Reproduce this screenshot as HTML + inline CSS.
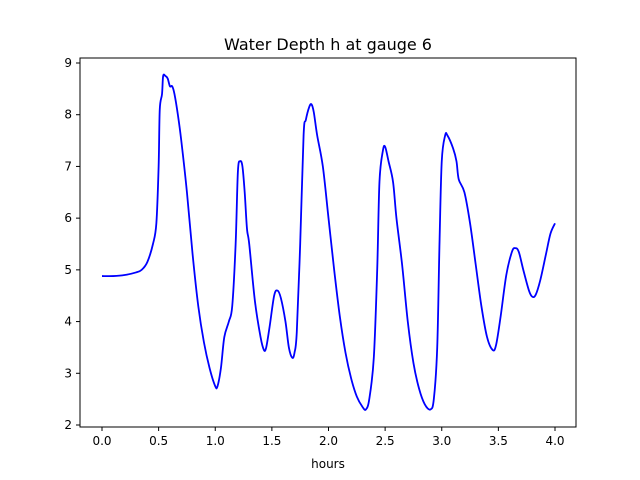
<!DOCTYPE html>
<html><head><meta charset="utf-8"><style>
body{margin:0;background:#fff}
svg{display:block;font-family:"DejaVu Sans","Liberation Sans",sans-serif}
</style></head><body>
<svg id="chart" width="640" height="480" xmlns="http://www.w3.org/2000/svg">
<rect width="640" height="480" fill="#fff"/>
<text x="328" y="50" font-size="16" text-anchor="middle">Water Depth h at gauge 6</text>
<g id="axes"></g>
<text x="328" y="468" font-size="12" text-anchor="middle">hours</text>
</svg>
<script>
const times=[0,0.1,0.2,0.3,0.35,0.4,0.45,0.48,0.5,0.51,0.53,0.54,0.56,0.58,0.6,0.62,0.64,0.67,0.7,0.75,0.8,0.85,0.9,0.95,1.0,1.02,1.05,1.08,1.12,1.15,1.18,1.2,1.22,1.24,1.26,1.28,1.3,1.35,1.4,1.43,1.45,1.48,1.52,1.55,1.58,1.62,1.65,1.68,1.7,1.72,1.75,1.78,1.8,1.83,1.85,1.87,1.9,1.95,2.0,2.05,2.1,2.15,2.2,2.25,2.3,2.33,2.36,2.4,2.43,2.45,2.48,2.5,2.53,2.57,2.6,2.65,2.7,2.75,2.8,2.85,2.9,2.93,2.96,2.98,3.0,3.03,3.05,3.1,3.13,3.15,3.2,3.25,3.3,3.35,3.4,3.45,3.48,3.52,3.57,3.62,3.65,3.68,3.72,3.77,3.8,3.83,3.87,3.92,3.96,4.0];
const depth=[4.88,4.88,4.9,4.95,5.0,5.15,5.5,5.9,7.0,8.1,8.4,8.75,8.75,8.7,8.55,8.55,8.4,8.0,7.5,6.5,5.3,4.3,3.6,3.1,2.75,2.75,3.1,3.7,4.0,4.3,5.5,6.9,7.1,7.0,6.5,5.8,5.5,4.4,3.7,3.45,3.5,3.9,4.5,4.6,4.45,4.0,3.5,3.3,3.4,3.8,5.5,7.6,7.9,8.15,8.2,8.05,7.6,7.0,6.0,5.0,4.1,3.4,2.9,2.55,2.35,2.3,2.5,3.3,5.0,6.7,7.3,7.38,7.1,6.7,6.0,5.1,4.0,3.2,2.7,2.4,2.3,2.5,3.5,5.5,7.1,7.6,7.6,7.35,7.1,6.75,6.5,5.9,5.1,4.3,3.7,3.45,3.55,4.1,4.9,5.35,5.42,5.35,5.0,4.6,4.48,4.52,4.8,5.3,5.7,5.9];
const xTicks=[0,0.5,1,1.5,2,2.5,3,3.5,4];
const xTickLabels=["0.0","0.5","1.0","1.5","2.0","2.5","3.0","3.5","4.0"];
const yTicks=[2,3,4,5,6,7,8,9];
const yTickLabels=["2","3","4","5","6","7","8","9"];
const L=80,R=576,T=58,B=427;
const xs=v=>102+v*(555-102)/4;
const ys=v=>425-(v-2)*(425-63)/7;
const NS="http://www.w3.org/2000/svg";
const g=document.getElementById('axes');
function mk(tag,attrs,parent){const e=document.createElementNS(NS,tag);for(const k in attrs)e.setAttribute(k,attrs[k]);(parent||g).appendChild(e);return e;}
const frame=mk('rect',{x:L,y:T,width:R-L,height:B-T,fill:'none',stroke:'#000','stroke-width':1});


xTicks.forEach((t,i)=>{
 const l=mk('line',{x1:xs(t),x2:xs(t),y1:B,y2:B+4,stroke:'#000'});
 
 
 const tx=mk('text',{x:xs(t),y:B+18,'font-size':12,'text-anchor':'middle'});
 tx.textContent=xTickLabels[i];
 
 
});
yTicks.forEach((t,i)=>{
 const l=mk('line',{x1:L-4,x2:L,y1:ys(t),y2:ys(t),stroke:'#000'});
 
 
 const tx=mk('text',{x:L-8,y:ys(t)+4,'font-size':12,'text-anchor':'end'});
 tx.textContent=yTickLabels[i];
 
 
});
const pts=times.map((t,i)=>[xs(t),ys(depth[i])]);
let d='M'+pts[0][0]+','+pts[0][1];
for(let i=0;i<pts.length-1;i++){
 const p0=pts[Math.max(0,i-1)],p1=pts[i],p2=pts[i+1],p3=pts[Math.min(pts.length-1,i+2)];
 const c1x=p1[0]+(p2[0]-p0[0])/6,c1y=p1[1]+(p2[1]-p0[1])/6,c2x=p2[0]-(p3[0]-p1[0])/6,c2y=p2[1]-(p3[1]-p1[1])/6;
 d+=` C${c1x},${c1y} ${c2x},${c2y} ${p2[0]},${p2[1]}`;
}
const line=mk('path',{d:d,fill:'none',stroke:'#0000ff','stroke-width':1.8});


</script>
</body></html>
